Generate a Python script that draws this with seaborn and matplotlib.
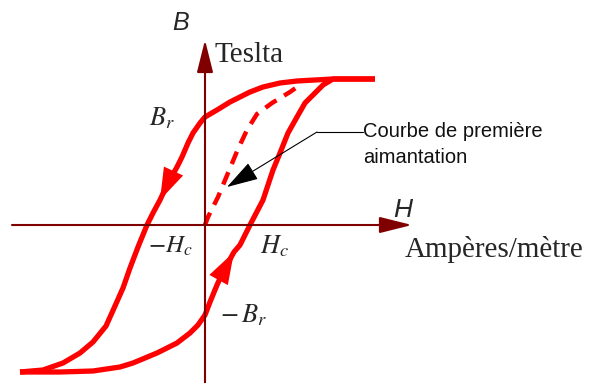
import matplotlib
matplotlib.use("Agg")
import matplotlib.pyplot as plt
import pandas as pd
import seaborn as sns

# Hysteresis loop: magnetic field H (A/m) vs flux density B (T), arbitrary units
# Descending branch: from positive saturation down to negative saturation
desc_H = [1.70, 1.28, 0.92, 0.75, 0.58, 0.45, 0.25, 0.12, 0.00, -0.05, -0.12,
          -0.17, -0.23, -0.28, -0.38, -0.45, -0.52, -0.58, -0.67, -0.75, -0.82,
          -0.90, -0.99, -1.12, -1.25, -1.42, -1.62, -1.85]
desc_B = [1.46, 1.46, 1.44, 1.42, 1.38, 1.33, 1.23, 1.15, 1.08, 1.02, 0.92,
          0.82, 0.68, 0.58, 0.40, 0.25, 0.12, 0.00, -0.22, -0.43, -0.63,
          -0.81, -1.01, -1.17, -1.28, -1.38, -1.45, -1.47]

# Ascending branch: from negative saturation back up to positive saturation
asc_H = [-1.85, -1.45, -1.12, -0.85, -0.72, -0.48, -0.28, -0.15, -0.07, 0.00,
         0.05, 0.12, 0.18, 0.29, 0.35, 0.45, 0.58, 0.68, 0.75, 0.83, 0.92,
         1.00, 1.10, 1.18, 1.28, 1.70]
asc_B = [-1.47, -1.47, -1.46, -1.42, -1.38, -1.28, -1.18, -1.08, -1.00, -0.90,
         -0.77, -0.60, -0.47, -0.27, -0.20, 0.00, 0.25, 0.55, 0.72, 0.92, 1.08,
         1.22, 1.32, 1.40, 1.46, 1.46]

# First magnetization curve (dashed), starting at the origin
init_H = [0.00, 0.03, 0.13, 0.23, 0.33, 0.42, 0.52, 0.67, 0.85, 0.95]
init_B = [0.00, 0.08, 0.28, 0.52, 0.76, 0.95, 1.11, 1.22, 1.33, 1.40]

RED = "#ff0000"
AXIS = "#800000"

sns.set_theme(style="white")
plt.rcParams["mathtext.fontset"] = "stix"

fig = plt.figure(figsize=(5.9, 3.83), dpi=100)
ax = fig.add_axes([0, 0, 1, 1])
ax.set_xlim(-2.05, 3.85)
ax.set_ylim(-1.58, 2.25)
ax.axis("off")

# Coordinate axes with arrowheads
axis_arrow = dict(arrowstyle="-|>,head_length=1.0,head_width=0.25",
                  mutation_scale=20, color=AXIS, lw=1.5, shrinkA=0, shrinkB=0)
ax.annotate("", xy=(2.07, 0), xytext=(-1.93, 0), arrowprops=axis_arrow)
ax.annotate("", xy=(0, 1.85), xytext=(0, -1.62), arrowprops=axis_arrow)

loop_desc = pd.DataFrame({"H": desc_H, "B": desc_B})
loop_asc = pd.DataFrame({"H": asc_H, "B": asc_B})
first = pd.DataFrame({"H": init_H, "B": init_B})

for df in (loop_desc, loop_asc):
    sns.lineplot(data=df, x="H", y="B", sort=False, estimator=None, ax=ax,
                 color=RED, lw=3.8, solid_capstyle="butt", solid_joinstyle="round")

sns.lineplot(data=first, x="H", y="B", sort=False, estimator=None, ax=ax,
             color=RED, lw=3.2, linestyle=(0, (3, 2)))

# Direction arrows on the loop
head = dict(arrowstyle="-|>,head_length=1.15,head_width=0.38", mutation_scale=20,
            color=RED, lw=0, shrinkA=0, shrinkB=0)
i = desc_H.index(-0.45)
ax.annotate("", xy=(desc_H[i], desc_B[i]), xytext=(desc_H[i - 1], desc_B[i - 1]),
            arrowprops=head)
j = asc_H.index(0.29)
ax.annotate("", xy=(asc_H[j], asc_B[j]), xytext=(asc_H[j - 1], asc_B[j - 1]),
            arrowprops=head)

# Pointer to the first magnetization curve
ax.plot([1.58, 1.12], [0.93, 0.93], color="black", lw=0.8)
ax.annotate("", xy=(0.22, 0.38), xytext=(1.12, 0.93),
            arrowprops=dict(arrowstyle="-|>,head_length=1.0,head_width=0.3",
                            mutation_scale=20, color="black", lw=0.8,
                            shrinkA=0, shrinkB=0))
note = dict(family="Liberation Sans", fontsize=14.5, va="baseline", ha="left",
            color="#111111")
ax.text(1.58, 0.88, "Courbe de première", **note)
ax.text(1.58, 0.62, "aimantation", **note)

# Axis names and units
ax.text(-0.33, 1.95, "B", family="Liberation Sans", fontstyle="italic",
        fontsize=18, va="baseline")
ax.text(0.10, 1.63, "Teslta", family="Liberation Serif", fontsize=21, va="baseline")
ax.text(1.88, 0.08, "H", family="Liberation Sans", fontstyle="italic",
        fontsize=19, va="baseline")
ax.text(2.00, -0.32, "Ampères/mètre", family="Liberation Serif", fontsize=21,
        va="baseline")

# Remanence and coercivity labels
ax.text(-0.56, 1.00, r"$B_r$", fontsize=19, va="baseline")
ax.text(-0.57, -0.28, r"$-H_c$", fontsize=18, va="baseline")
ax.text(0.55, -0.28, r"$H_c$", fontsize=19, va="baseline")
ax.text(0.15, -0.97, r"$-\,B_r$", fontsize=19, va="baseline")

fig.savefig("out.png", dpi=100, facecolor="white")
